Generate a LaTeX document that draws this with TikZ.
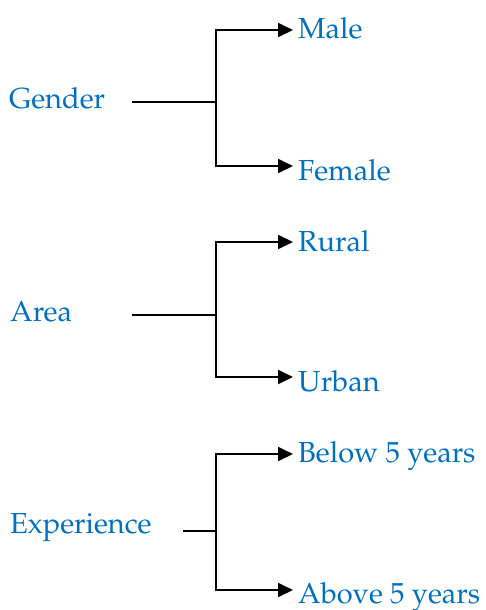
\documentclass[tikz,border=0pt]{standalone}
\usepackage[T1]{fontenc}
\usepackage{mathpazo}
\usepackage{tikz}
\usetikzlibrary{arrows.meta,calc}
\definecolor{wordblue}{RGB}{0,112,192}

\begin{document}
\begin{tikzpicture}
[x=1pt,y=-1pt,
 t/.style={text=wordblue,inner sep=0pt,anchor=base west,font=\fontsize{29}{34}\selectfont},
 stem/.style={line width=1.4pt},
 br/.style={line width=2pt,-{Triangle[length=15pt,width=14pt]},shorten >=5pt}]
\useasboundingbox (0,0) rectangle (485,610);
% gender
\node[t] (g) at (9,108) {Gender};
\node[t] (g1) at (298,38) {Male};
\node[t] (g2) at (298,180) {Female};
\coordinate (gs) at (132,102);
\coordinate (gj) at (216,102);
\draw[stem] (gs) -- (gj);
\draw[br] (gj) |- ([yshift=8pt]g1.base west);
\draw[br] (gj) |- ([yshift=14pt]g2.base west);
% area
\node[t] (a) at (10,321) {Area};
\node[t] (a1) at (298,251) {Rural};
\node[t] (a2) at (298,391) {Urban};
\coordinate (as) at (132,315);
\coordinate (aj) at (216,315);
\draw[stem] (as) -- (aj);
\draw[br] (aj) |- ([yshift=9pt]a1.base west);
\draw[br] (aj) |- ([yshift=14pt]a2.base west);
% experience
\node[t] (e) at (10,533) {Experience};
\node[t] (e1) at (298,462) {Below 5 years};
\node[t] (e2) at (298,603) {Above 5 years};
\coordinate (es) at (183,531);
\coordinate (ej) at (216,531);
\draw[stem] (es) -- (ej);
\draw[br] (ej) |- ([yshift=8pt]e1.base west);
\draw[br] (ej) |- ([yshift=13pt]e2.base west);
\end{tikzpicture}
\end{document}
